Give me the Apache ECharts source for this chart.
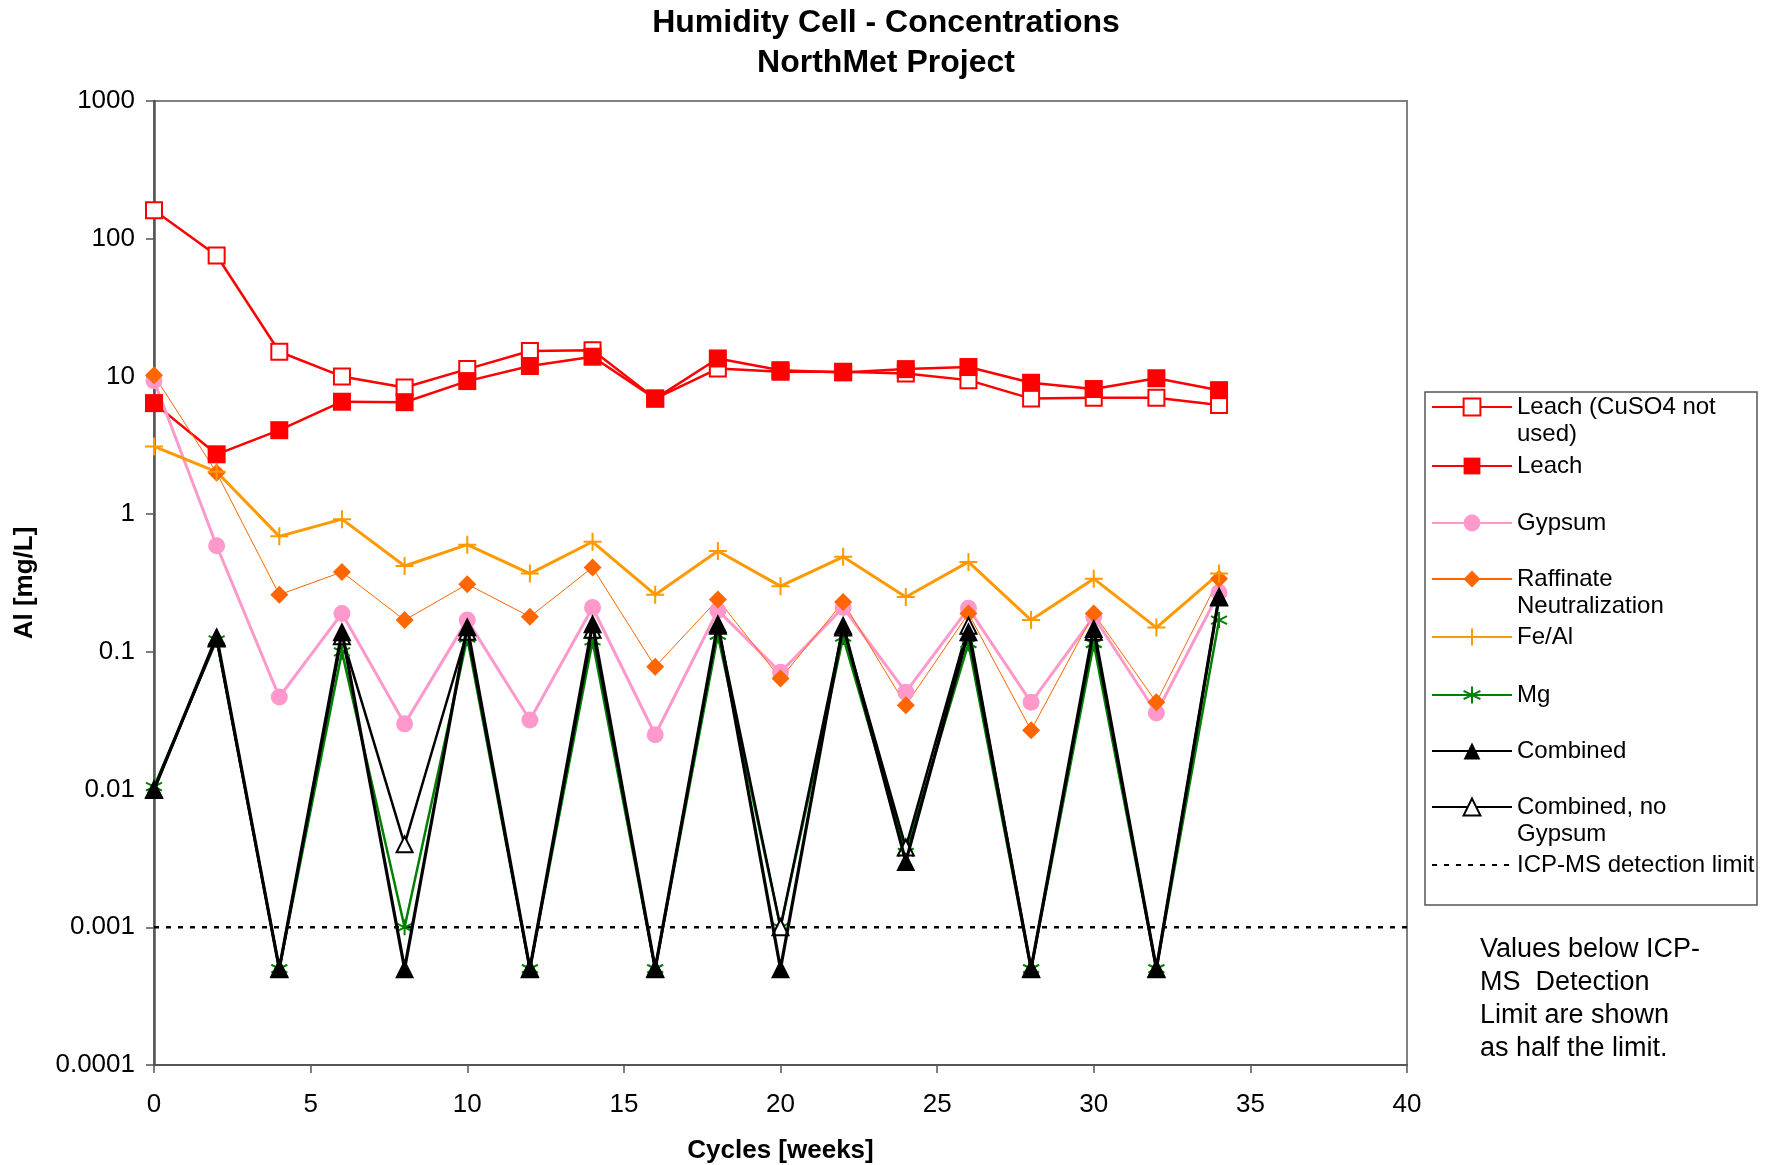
<!DOCTYPE html>
<html>
<head>
<meta charset="utf-8">
<script src="https://cdn.jsdelivr.net/npm/echarts@6/dist/echarts.min.js"></script>
<style>html,body{margin:0;padding:0;background:#fff}#c{width:1772px;height:1165px}</style>
</head>
<body>
<div id="c"></div>
<script>
// ---- data ----
var cycles = [0, 2, 4, 6, 8, 10, 12, 14, 16, 18, 20, 22, 24, 26, 28, 30, 32, 34];
var leachNoCuSO4 = [161, 75.5, 15.1, 10.0, 8.3, 11.3, 15.3, 15.5, 6.9, 11.4, 10.8, 10.8, 10.5, 9.4, 6.9, 7.0, 7.0, 6.2];
var leach = [6.4, 2.72, 4.07, 6.55, 6.5, 9.25, 11.9, 13.9, 6.9, 13.5, 11.1, 10.7, 11.3, 11.7, 9.0, 8.1, 9.7, 7.95];
var gypsum = [9.3, 0.59, 0.047, 0.19, 0.030, 0.17, 0.032, 0.21, 0.025, 0.20, 0.071, 0.21, 0.051, 0.207, 0.043, 0.18, 0.036, 0.27];
var raffinate = [10.2, 2.0, 0.26, 0.38, 0.17, 0.31, 0.18, 0.41, 0.078, 0.24, 0.064, 0.23, 0.041, 0.19, 0.027, 0.19, 0.043, 0.34];
var feAl = [3.1, 2.03, 0.69, 0.92, 0.42, 0.60, 0.37, 0.63, 0.26, 0.54, 0.30, 0.49, 0.25, 0.45, 0.17, 0.34, 0.15, 0.37];
var mg = [0.0105, 0.122, 0.0005, 0.10, 0.001, 0.126, 0.0005, 0.12, 0.0005, 0.132, 0.001, 0.128, 0.0035, 0.115, 0.0005, 0.115, 0.0005, 0.17];
var combined = [0.01, 0.129, 0.0005, 0.14, 0.0005, 0.152, 0.0005, 0.16, 0.0005, 0.16, 0.0005, 0.156, 0.003, 0.14, 0.0005, 0.148, 0.0005, 0.25];
var combinedNoGypsum = [0.01, 0.125, 0.0005, 0.13, 0.004, 0.14, 0.0005, 0.145, 0.0005, 0.155, 0.001, 0.15, 0.0038, 0.155, 0.0005, 0.14, 0.0005, 0.25];
var detectionX = [0, 40];
var detectionY = [0.001, 0.001];
var yTickLabels = ['0.0001', '0.001', '0.01', '0.1', '1', '10', '100', '1000'];
var xTickLabels = ['0', '5', '10', '15', '20', '25', '30', '35', '40'];
var seriesNames = ['Leach (CuSO4 not\nused)', 'Leach', 'Gypsum', 'Raffinate\nNeutralization', 'Fe/Al', 'Mg', 'Combined', 'Combined, no\nGypsum', 'ICP-MS detection limit'];
var noteText = 'Values below ICP-\nMS  Detection\nLimit are shown\nas half the limit.';

// ---- chart ----
var FONT = 'Liberation Sans, Arial, sans-serif';
function pts(xs, ys) { return xs.map(function (x, i) { return [x, ys[i]]; }); }

var plusPath = 'path://M0,5L10,5M5,0L5,10';
var starPath = 'path://M5,0L5,10M0.7,2.5L9.3,7.5M0.7,7.5L9.3,2.5';

var series = [
  { name: seriesNames[0], data: pts(cycles, leachNoCuSO4), symbol: 'rect', symbolSize: 16,
    lineStyle: { color: '#ff0000', width: 2.5 }, itemStyle: { color: '#ffffff', borderColor: '#ff0000', borderWidth: 2 } },
  { name: seriesNames[1], data: pts(cycles, leach), symbol: 'rect', symbolSize: 18,
    lineStyle: { color: '#ff0000', width: 2.5 }, itemStyle: { color: '#ff0000', borderColor: '#ff0000', borderWidth: 0 } },
  { name: seriesNames[2], data: pts(cycles, gypsum), symbol: 'circle', symbolSize: 17,
    lineStyle: { color: '#ff99cc', width: 3 }, itemStyle: { color: '#ff99cc', borderWidth: 0 } },
  { name: seriesNames[3], data: pts(cycles, raffinate), symbol: 'diamond', symbolSize: 18,
    lineStyle: { color: '#ff6600', width: 1 }, itemStyle: { color: '#ff6600', borderWidth: 0 } },
  { name: seriesNames[4], data: pts(cycles, feAl), symbol: plusPath, symbolSize: 18,
    lineStyle: { color: '#ff9900', width: 3 }, itemStyle: { color: '#ff9900', borderColor: '#ff9900', borderWidth: 2 } },
  { name: seriesNames[5], data: pts(cycles, mg), symbol: starPath, symbolSize: 16,
    lineStyle: { color: '#008000', width: 2.5 }, itemStyle: { color: '#008000', borderColor: '#008000', borderWidth: 2 } },
  { name: seriesNames[6], data: pts(cycles, combined), symbol: 'triangle', symbolSize: 19, z: 4,
    lineStyle: { color: '#000000', width: 3.2 }, itemStyle: { color: '#000000', borderWidth: 0 } },
  { name: seriesNames[7], data: pts(cycles, combinedNoGypsum), symbol: 'triangle', symbolSize: 16, z: 3,
    lineStyle: { color: '#000000', width: 2.5 }, itemStyle: { color: '#ffffff', borderColor: '#000000', borderWidth: 2 } },
  { name: seriesNames[8], data: pts(detectionX, detectionY), symbol: 'rect', showSymbol: false,
    lineStyle: { color: '#000000', width: 2.5, type: [5, 7] }, itemStyle: { color: 'rgba(0,0,0,0)', borderWidth: 0 } }
].map(function (s) {
  s.type = 'line'; s.clip = false; s.animation = false;
  if (s.showSymbol === undefined) s.showSymbol = true;
  s.emphasis = { disabled: true };
  return s;
});

// legend: one component per item so spacing matches the reference
var legendCenters = [407, 466, 523, 579, 637, 695, 751, 807, 865];
var legends = seriesNames.map(function (n, i) {
  var multi = n.indexOf('\n') >= 0;
  return {
    orient: 'vertical', left: 1431, top: legendCenters[i] - (multi ? 40.5 : 13.5), padding: 0,
    itemWidth: 80, itemHeight: 21, data: [n],
    // a leading blank line keeps the first text line level with the icon
    formatter: function (name) { return name.indexOf('\n') >= 0 ? '\n' + name : name; },
    textStyle: { fontFamily: FONT, fontSize: 24, color: '#000', lineHeight: 27 }
  };
});

var chart = echarts.init(document.getElementById('c'), null, { renderer: 'canvas' });
chart.setOption({
  backgroundColor: '#ffffff',
  animation: false,
  title: {
    text: 'Humidity Cell - Concentrations\nNorthMet Project', left: 'center', top: 3, padding: 0,
    textStyle: { fontFamily: FONT, fontSize: 32, fontWeight: 'bold', color: '#000', lineHeight: 40 }
  },
  grid: { left: 154, top: 101, width: 1253, height: 964, containLabel: false, outerBoundsMode: 'none',
    show: true, borderColor: '#808080', borderWidth: 2, backgroundColor: 'transparent' },
  legend: legends,
  xAxis: {
    type: 'value', min: 0, max: 40, interval: 5,
    name: 'Cycles [weeks]', nameLocation: 'middle', nameGap: 73,
    nameTextStyle: { fontFamily: FONT, fontSize: 26, fontWeight: 'bold', color: '#000' },
    axisLine: { show: true, lineStyle: { color: '#555', width: 2 } },
    axisTick: { show: true, inside: false, length: 8, lineStyle: { color: '#555', width: 1.5 } },
    axisLabel: { margin: 27, fontFamily: FONT, fontSize: 26, color: '#000',
      formatter: function (v) { return xTickLabels[Math.round(v / 5)]; } },
    splitLine: { show: false }
  },
  yAxis: {
    type: 'log', logBase: 10, min: 0.0001, max: 1000, interval: 1,
    name: 'Al [mg/L]', nameLocation: 'middle', nameGap: 116, nameRotate: 90,
    nameTextStyle: { fontFamily: FONT, fontSize: 26, fontWeight: 'bold', color: '#000' },
    axisLine: { show: true, lineStyle: { color: '#555', width: 2.5 } },
    axisTick: { show: true, inside: false, length: 8, lineStyle: { color: '#555', width: 1.5 } },
    minorTick: { show: false },
    axisLabel: { margin: 19, fontFamily: FONT, fontSize: 26, color: '#000',
      formatter: function (v) { return yTickLabels[Math.round(Math.log10(v)) + 4]; } },
    splitLine: { show: false }
  },
  graphic: [
    { type: 'rect', shape: { x: 1425, y: 392, width: 332, height: 513 }, silent: true, z: -1,
      style: { fill: 'transparent', stroke: '#555', lineWidth: 1.5 } },
    { type: 'text', x: 1480, y: 933, silent: true,
      style: { text: noteText, fontFamily: FONT, fontSize: 27, lineHeight: 33, fill: '#000' } }
  ],
  series: series
});
</script>
</body>
</html>
